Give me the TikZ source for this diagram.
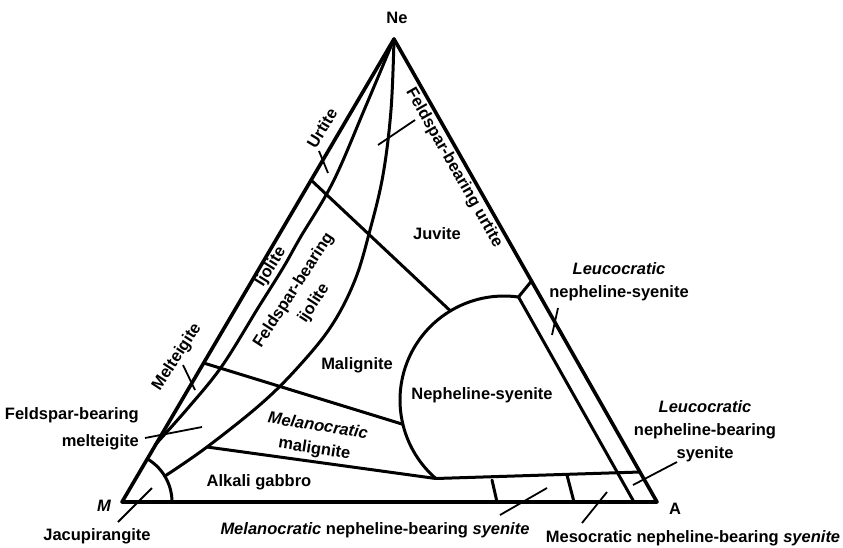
\documentclass[tikz,border=0pt]{standalone}
\usepackage{fontspec}
\setmainfont{Liberation Sans}
\begin{document}
\begin{tikzpicture}[x=1pt,y=-1pt,
  edge/.style={line width=3.6pt, line join=round, line cap=round},
  bnd/.style={line width=3pt, line cap=round, line join=round},
  ptr/.style={line width=1.8pt},
  lbl/.style={font=\fontsize{16.5}{23}\selectfont\bfseries, inner sep=0pt, align=center},
]
\useasboundingbox (0,0) rectangle (843,547);
% corners
\coordinate (M) at (122,502);
\coordinate (Ne) at (394,39);
\coordinate (A) at (657,502);
\draw[edge] (M) -- (Ne) -- (A) -- cycle;
% key points
\coordinate (U1) at (311,180);
\coordinate (U2) at (450.4,310.9);
\coordinate (J1) at (518.5,297);
\coordinate (R1) at (531.5,281);
\coordinate (P1) at (634,502);
\coordinate (ML1) at (203.7,363);
\coordinate (ML2) at (402.9,424.3);
\coordinate (AG1) at (207,447);
\coordinate (AG2) at (435.8,478.5);
\coordinate (B2) at (640,472);
\coordinate (T1a) at (492,480);
\coordinate (T1b) at (497,502);
\coordinate (T2a) at (567,475);
\coordinate (T2b) at (574,502);
% inner curve (ijolite / feldspar-bearing ijolite)
\draw[bnd] plot[smooth, tension=0.6] coordinates {(394,39) (365,108) (333,182) (300,238) (283,268) (258,308) (222,366) (188,408) (155,445)};
% big curve from Ne to jacupirangite arc
\draw[bnd] plot[smooth, tension=0.6] coordinates {(394,39) (391,110) (383,175) (370,230) (355,280) (332,325) (300,365) (262,403) (207,447) (165,476)};
% jacupirangite arc
\draw[bnd] plot[domain=0:59.6, samples=30] ({122+50*cos(\x)},{502-50*sin(\x)});
% nepheline-syenite round boundary
\draw[bnd] plot[domain=82:229, samples=60] ({504+104*cos(\x)},{400-104*sin(\x)});
% straight boundaries
\draw[bnd] (U1) -- (U2);
\draw[bnd] (J1) -- (R1);
\draw[bnd] (J1) -- (P1);
\draw[bnd] (ML1) -- (ML2);
\draw[bnd] (AG1) -- (AG2);
\draw[bnd] (AG2) -- (B2);
\draw[bnd] (T1a) -- (T1b);
\draw[bnd] (T2a) -- (T2b);
% corner labels
\node[lbl] (lNe) at (397,18) {Ne};
\node[lbl] (lM) at (104,506) {\itshape M};
\node[lbl] (lA) at (675,509) {A};
% region labels
\node[lbl, rotate=59] (lUrt) at (322,128) {Urtite};
\node[lbl, rotate=-60.4] (lFBU) at (454,168) {Feldspar-bearing urtite};
\node[lbl] (lJuv) at (437,234) {Juvite};
\node[lbl, rotate=58] (lIjo) at (271,267) {Ijolite};
\node[lbl, rotate=57, font=\fontsize{16.5}{24}\selectfont\bfseries] (lFBI) at (304,297) {Feldspar-bearing\\ijolite};
\node[lbl, rotate=57] (lMel) at (177,357) {Melteigite};
\node[lbl, anchor=east, align=right, font=\fontsize{16.5}{27}\selectfont\bfseries] (lFBM) at (139,429) {Feldspar-bearing\\melteigite};
\node[lbl] (lMal) at (357,365) {Malignite};
\node[lbl, rotate=-9] (lMM) at (316,438) {\itshape Melanocratic\\malignite};
\node[lbl] (lAG) at (259,482) {Alkali gabbro};
\node[lbl] (lNS) at (482,395) {Nepheline-syenite};
\node[lbl] (lLNS) at (619,282) {\itshape Leucocratic\\nepheline-syenite};
\node[lbl] (lLNBS) at (705,431) {\itshape Leucocratic\\nepheline-bearing\\syenite};
\node[lbl] (lJac) at (97,536) {Jacupirangite};
\node[lbl] (lMNBS) at (375,530) {\itshape Melanocratic\upshape{} nepheline-bearing \itshape syenite};
\node[lbl] (lMeNBS) at (693,538) {Mesocratic nepheline-bearing \itshape syenite};
% pointer lines
\coordinate (pU1) at (319,151);  \coordinate (pU2) at (328,173);
\draw[ptr] (pU1) -- (pU2);
\coordinate (pF1) at (378,145);  \coordinate (pF2) at (415,120);
\draw[ptr] (pF1) -- (pF2);
\coordinate (pL1) at (552,335);  \coordinate (pL2) at (558,308);
\draw[ptr] (pL1) -- (pL2);
\coordinate (pMe1) at (183,365); \coordinate (pMe2) at (195,390);
\draw[ptr] (pMe1) -- (pMe2);
\coordinate (pFM1) at (145,438); \coordinate (pFM2) at (202,427);
\draw[ptr] (pFM1) -- (pFM2);
\coordinate (pJ1) at (118,522);  \coordinate (pJ2) at (152,488);
\draw[ptr] (pJ1) -- (pJ2);
\coordinate (pMN1) at (500,515); \coordinate (pMN2) at (547,488);
\draw[ptr] (pMN1) -- (pMN2);
\coordinate (pMs1) at (582,523); \coordinate (pMs2) at (607,492);
\draw[ptr] (pMs1) -- (pMs2);
\coordinate (pLB1) at (677,462); \coordinate (pLB2) at (633,485);
\draw[ptr] (pLB1) -- (pLB2);
\end{tikzpicture}
\end{document}
